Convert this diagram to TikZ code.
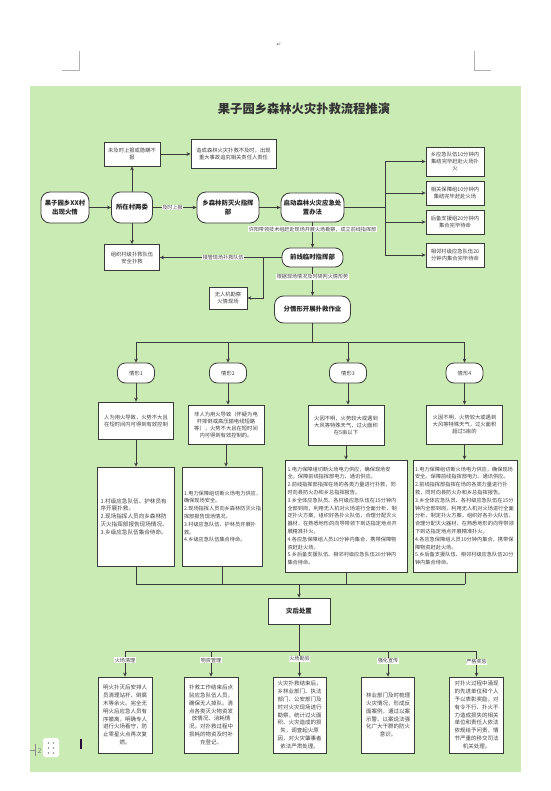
\documentclass[tikz,border=0pt]{standalone}
\usepackage{fontspec}
\setmainfont{Noto Sans CJK SC}
\newfontfamily\symf{DejaVu Sans}
\usetikzlibrary{arrows.meta}
\definecolor{bg}{HTML}{CBEBB4}
\definecolor{lc}{HTML}{3A3A3A}
\definecolor{tx}{HTML}{404040}
\definecolor{cursor}{HTML}{2A0A3A}
\begin{document}
\begin{tikzpicture}[x=1pt,y=-1pt,
  box/.style={draw=lc, fill=white, line width=0.8pt, inner sep=0pt, align=center, text=tx},
  rnd/.style={rounded corners=9pt},
  rnds/.style={rounded corners=8pt},
  fb/.style={font=\fontsize{6.4pt}{8.4pt}\selectfont\bfseries, text=black!85},
  fs/.style={font=\fontsize{5.3pt}{7pt}\selectfont},
  fd/.style={font=\fontsize{5.6pt}{7.8pt}\selectfont, align=left},
  fdn/.style={font=\fontsize{5.2pt}{7.8pt}\selectfont, align=left},
  fbt/.style={font=\fontsize{5.5pt}{7.8pt}\selectfont},
  lab/.style={fill=white, inner sep=0.6pt, font=\fontsize{5.1pt}{6pt}\selectfont, text=tx},
  wire/.style={draw=lc, line width=0.8pt},
  arr/.style={draw=lc, line width=0.8pt, -{Stealth[length=4pt,width=3.6pt]}}
]
\useasboundingbox (0,0) rectangle (550,791);
\fill[white] (0,0) rectangle (550,791);
% page marks
\draw[black!30, line width=0.6pt] (62,70) -- (79,70) -- (79,51);
\draw[black!30, line width=0.6pt] (491,70) -- (474,70) -- (474,51);
\node[text=black!55, font=\symf\fontsize{6pt}{6pt}\selectfont] (ret) at (279,45) {↵};
% green background
\fill[bg] (30,86) rectangle (521,772);
% title
\node[font=\fontsize{12.3pt}{14pt}\selectfont\bfseries, text=black!80] (title) at (304,109) {果子园乡森林火灾扑救流程推演};

% first row
\node[box,rnd,fb,minimum width=48pt,minimum height=31pt] (A) at (65,207.5) {果子园乡XX村\\出现火情};
\node[box,rnd,fb,minimum width=41pt,minimum height=31pt] (B) at (132,207.5) {所在村两委};
\node[box,rnd,fb,minimum width=62pt,minimum height=31pt] (C) at (228,207.5) {乡森林防灭火指挥\\部};
\node[box,rnd,fb,minimum width=63pt,minimum height=29pt] (D) at (312.5,207.5) {启动森林火灾应急处\\置办法};

\node[box,fs,minimum width=56pt,minimum height=24pt] (U1) at (132,154) {未及时上报或隐瞒不\\报};
\node[box,fs,minimum width=85pt,minimum height=29pt] (U2) at (233.5,154) {造成森林火灾扑救不及时，出现\\重大事故追究相关责任人责任};

\node[box,fs,minimum width=58pt,minimum height=29pt] (R1) at (455,161.5) {乡应急队伍10分钟内\\集结完毕赶赴火场扑\\火};
\node[box,fs,minimum width=58pt,minimum height=24pt] (R2) at (455,193) {相关保障组10分钟内\\集结完毕赶赴火场};
\node[box,fs,minimum width=58pt,minimum height=24pt] (R3) at (455,222) {后备支援组20分钟内\\集合完毕待命};
\node[box,fs,minimum width=58pt,minimum height=24pt] (R4) at (455,255) {相邻村级应急队伍20\\分钟内集合完毕待命};

\node[box,rnds,fb,minimum width=61pt,minimum height=19pt] (E) at (312.5,257.5) {前线临时指挥部};
\node[box,fs,minimum width=55pt,minimum height=26pt] (P) at (132,257.5) {组织村级扑救队伍\\安全扑救};
\node[box,fs,minimum width=38pt,minimum height=22pt] (UAV) at (228,298) {无人机勘察\\火情现场};
\node[box,rnd,fb,minimum width=76pt,minimum height=27pt] (F) at (312.5,309.5) {分情形开展扑救作业};

% connectors first row
\draw[arr] (A) -- (B);
\draw[arr] (B) -- node[lab,pos=0.45]{及时上报} (C);
\draw[arr] (C) -- (D);
\draw[arr] (B) -- (U1);
\draw[arr] (U1) -- (U2);
\coordinate (br) at (385,207.5);
\draw[wire] (D) -- (br);
\draw[wire] (br |- R1) -- (br |- R4);
\foreach \r in {R1,R2,R3,R4} \draw[arr] (br |- \r) -- (\r);
\draw[arr] (D) -- node[lab,pos=0.28]{许阳带领技术组赶赴现场开展火场勘察，成立前线指挥部} (E);
\draw[arr] (B) -- (P);
\draw[arr] (E) -- node[lab,pos=0.48]{接管现场扑救队伍} (P);
\coordinate (j1) at (263,257.5);
\draw[arr] (j1) |- (UAV);
\draw[arr] (E) -- node[lab,pos=0.34]{根据现场情况及时研判火情形势} (F);

% cases
\node[box,rnds,fs,minimum width=37pt,minimum height=20pt] (C1) at (136,373) {情形1};
\node[box,rnds,fs,minimum width=37pt,minimum height=20pt] (C2) at (228,373) {情形2};
\node[box,rnds,fs,minimum width=37pt,minimum height=20pt] (C3) at (348,373) {情形3};
\node[box,rnds,fs,minimum width=37pt,minimum height=20pt] (C4) at (464.5,373) {情形4};
\coordinate (h1) at (312.5,342);
\draw[wire] (F) -- (h1);
\draw[wire] (C1 |- h1) -- (C4 |- h1);
\foreach \c in {C1,C2,C3,C4} \draw[arr] (\c |- h1) -- (\c);

\node[box,fs,minimum width=75pt,minimum height=37pt] (S1) at (136,420.5) {人为用火导致，火势不大且\\在短时间内可得到有效控制};
\node[box,fs,minimum width=76pt,minimum height=39pt] (S2) at (226,424.5) {非人为用火导致（怀疑为电\\杆摔倒或高压输电线短路\\等），火势不大且在短时间\\内可得到有效控制的。};
\node[box,fs,minimum width=76pt,minimum height=40pt] (S3) at (346,425) {火因不明，火势较大或遇到\\大风等特殊天气，过火面积\\在5亩以下};
\node[box,fs,minimum width=76pt,minimum height=39pt] (S4) at (464.5,424.5) {火因不明，火势较大或遇到\\大风等特殊天气，过火面积\\超过5亩的};
\draw[arr] (C1) -- (C1 |- S1.north);
\draw[arr] (C2) -- (C2 |- S2.north);
\draw[arr] (C3) -- (C3 |- S3.north);
\draw[arr] (C4) -- (C4 |- S4.north);

% details
\node[box,fd,minimum width=77pt,minimum height=99pt,text width=71pt] (D1) at (136,516.5) {1.村级应急队伍、护林员有\\序开展扑救。\\2.现场指挥人员向乡森林防\\灭火指挥部报告现场情况。\\3.乡级应急队伍集合待命。};
\node[box,fdn,minimum width=80pt,minimum height=99pt,text width=76pt] (D2) at (222,516.5) {1.电力保障组切断火场电力供应，\\确保现场安全。\\2.现场指挥人员向乡森林防灭火指\\挥部报告现场情况。\\3.村级应急队伍、护林员开展扑\\救。\\4.乡级应急队伍集合待命。};
\node[box,fdn,minimum width=122pt,minimum height=112pt,text width=117pt] (D3) at (346,516) {1.电力保障组切断火场电力供应，确保现场安\\全。保障前线指挥部电力、通讯供应。\\2.前线指挥部指挥在场的各类力量进行扑救，同\\时向县防火办和乡总指挥报告。\\3.乡全体应急队员、各村级应急队伍在15分钟内\\全部到岗，利用无人机对火场进行全面分析，制\\定扑火方案，组织好各扑火队伍，合理分配灭火\\器材，在熟悉地形的向导带领下到达指定地点开\\展精准扑火。\\4.各应急保障组人员10分钟内集合，携带保障物\\资赶赴火场。\\5.乡后备支援队伍、相邻村级应急队伍20分钟内\\集合待命。};
\node[box,fdn,minimum width=104pt,minimum height=112pt,text width=100pt] (D4) at (465,516) {1.电力保障组切断火场电力供应，确保现场\\安全。保障前线指挥部电力、通讯供应。\\2.前线指挥部指挥在场的各类力量进行扑\\救，同时向县防火办和乡总指挥报告。\\3.乡全体应急队员、各村级应急队伍在15分\\钟内全部到岗，利用无人机对火场进行全面\\分析，制定扑火方案，组织好各扑火队伍，\\合理分配灭火器材，在熟悉地形的向导带领\\下到达指定地点开展精准扑火。\\4.各应急保障组人员10分钟内集合，携带保\\障物资赶赴火场。\\5.乡后备支援队伍、相邻村级应急队伍20分\\钟内集合待命。};
\draw[arr] (S1) -- (S1 |- D1.north);
\draw[arr] (S2) -- (S2 |- D2.north);
\draw[arr] (S3) -- (S3 |- D3.north);
\draw[arr] (S4) -- (S4 |- D4.north);

% after-disaster
\node[box,fb,minimum width=62pt,minimum height=26pt] (Z) at (299,611) {灾后处置};
\coordinate (h2) at (299,584);
\foreach \d in {D1,D2,D3,D4} \draw[wire] (\d) -- (\d |- h2);
\draw[wire] (D1 |- h2) -- (D4 |- h2);
\draw[arr] (h2) -- (Z);

\node[box,fbt,minimum width=54pt,minimum height=76pt] (B1) at (125,715) {明火扑灭后安排人\\员清理站杆、倒腐\\木等余火。完全无\\明火后应急人员有\\序撤离，明确专人\\进行火场看守，防\\止零星火点再次复\\燃。};
\node[box,fbt,minimum width=54pt,minimum height=76pt] (B2) at (211,715) {扑救工作结束后点\\验应急队伍人员，\\确保无人掉队。清\\点各类灭火物资发\\放情况、消耗情\\况。对扑救过程中\\损耗的物资及时补\\充登记。};
\node[box,fbt,minimum width=53pt,minimum height=76pt] (B3) at (299.5,715) {火灾扑救结束后，\\乡林业部门、执法\\部门、公安部门及\\时对火灾现场进行\\勘察，统计过火面\\积、火灾造成的损\\失，调查起火原\\因，对火灾肇事者\\依法严肃处理。};
\node[box,fbt,minimum width=53pt,minimum height=76pt] (B4) at (388,715) {林业部门及时梳理\\火灾情况，形成反\\面案例，通过以案\\示警、以案说法强\\化广大干群的防火\\意识。};
\node[box,fbt,minimum width=54pt,minimum height=76pt] (B5) at (476.5,715) {对扑火过程中涌现\\的先进单位和个人\\予以表彰奖励，对\\有令不行、扑火不\\力造成损失的相关\\单位和责任人依法\\依规给予问责，情\\节严重的移交司法\\机关处理。};
\coordinate (h3) at (299,651);
\draw[wire] (Z) -- (h3);
\draw[wire] (B1 |- h3) -- (B5 |- h3);
\draw[arr] (B1 |- h3) -- node[lab,pos=0.36]{火场清理} (B1);
\draw[arr] (B2 |- h3) -- node[lab,pos=0.36]{物资管理} (B2);
\draw[arr] (B3 |- h3) -- node[lab,pos=0.30]{火场勘验} (B3);
\draw[arr] (B4 |- h3) -- node[lab,pos=0.38]{强化宣传} (B4);
\draw[arr] (B5 |- h3) -- node[lab,pos=0.42]{严格奖惩} (B5);

% editor artefacts bottom-left
\draw[black!45, line width=0.6pt] (30,750) -- (35,750) (35,744) -- (35,756);
\node[text=black!50, font=\fontsize{7pt}{7pt}\selectfont, inner sep=0pt] (pg) at (39.5,751) {2};
\fill[white, rounded corners=2.5pt] (43,738) rectangle (59,757);
\foreach \dx in {48.5,53.5} \foreach \dy in {743,748,753} \fill[black!45] (\dx,\dy) circle (0.8);
\fill[cursor] (80.3,739) rectangle (82.3,748.5);
\end{tikzpicture}
\end{document}
